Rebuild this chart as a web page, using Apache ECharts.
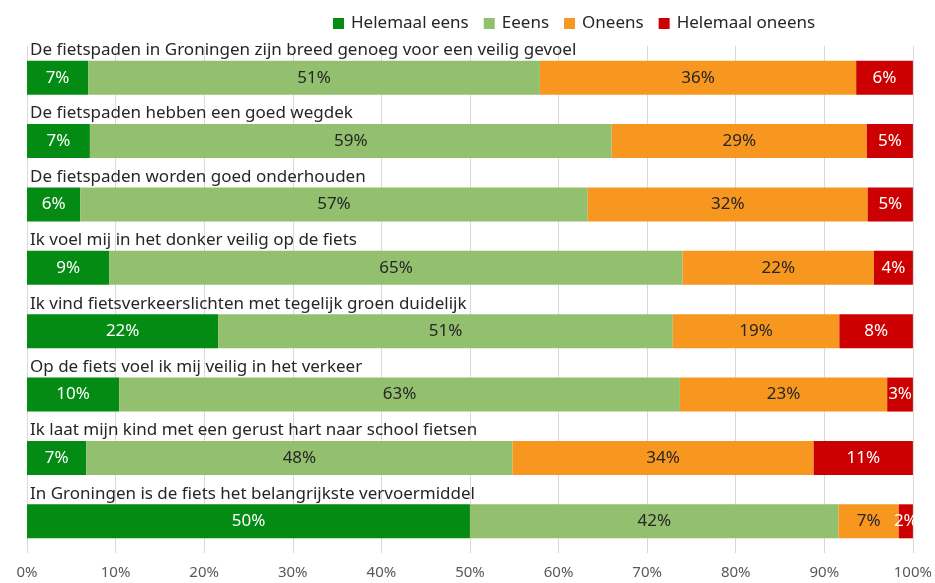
<!DOCTYPE html>
<html>
<head>
<meta charset="utf-8">
<script src="https://cdn.jsdelivr.net/npm/echarts@6/dist/echarts.min.js"></script>
<style>
	html, body { margin: 0; padding: 0; background: #fff; }
	#chart { width: 935px; height: 583px; }
</style>
</head>
<body>
<div id="chart"></div>
<script>
var categories = [
	'De fietspaden in Groningen zijn breed genoeg voor een veilig gevoel',
	'De fietspaden hebben een goed wegdek',
	'De fietspaden worden goed onderhouden',
	'Ik voel mij in het donker veilig op de fiets',
	'Ik vind fietsverkeerslichten met tegelijk groen duidelijk',
	'Op de fiets voel ik mij veilig in het verkeer',
	'Ik laat mijn kind met een gerust hart naar school fietsen',
	'In Groningen is de fiets het belangrijkste vervoermiddel'
];
var helemaalEens = [6.9, 7.1, 6.0, 9.3, 21.6, 10.4, 6.7, 50.0];
var eens = [51.0, 58.9, 57.3, 64.7, 51.3, 63.3, 48.1, 41.6];
var oneens = [35.7, 28.8, 31.6, 21.6, 18.8, 23.4, 34.0, 6.8];
var helemaalOneens = [6.4, 5.2, 5.1, 4.4, 8.3, 2.9, 11.2, 1.6];
var xTicks = [0, 10, 20, 30, 40, 50, 60, 70, 80, 90, 100];

var font = 'Noto Sans';

function makeSeries(name, data, color, textColor) {
	return {
		name: name,
		type: 'bar',
		stack: 'total',
		barWidth: 34,
		data: data,
		itemStyle: { color: color },
		label: {
			show: true,
			position: 'inside',
			color: textColor,
			fontFamily: font,
			fontSize: 17,
			formatter: function(p) { return Math.round(p.value) + '%'; }
		}
	};
}

var chart = echarts.init(document.getElementById('chart'));

var option = {
	animation: false,
	textStyle: { fontFamily: font },
	legend: {
		top: 10,
		left: 328,
		itemWidth: 11,
		itemHeight: 11,
		itemGap: 15,
		icon: 'rect',
		textStyle: { fontFamily: font, fontSize: 17, color: '#262626', padding: [0, 0, 0, 2] },
		data: ['Helemaal eens', 'Eeens', 'Oneens', 'Helemaal oneens']
	},
	grid: { left: 27, right: 20, top: 46, bottom: 30 },
	xAxis: {
		type: 'value',
		min: xTicks[0],
		max: xTicks[xTicks.length - 1],
		interval: 10,
		axisLine: { show: false },
		axisTick: { show: false },
		splitLine: { lineStyle: { color: '#d9d9d9' } },
		axisLabel: {
			margin: 12,
			fontSize: 15,
			color: '#595959',
			fontFamily: font,
			formatter: '{value}%'
		}
	},
	yAxis: {
		type: 'category',
		inverse: true,
		data: categories,
		axisLine: { show: false },
		axisTick: { show: false },
		axisLabel: {
			inside: true,
			margin: 3,
			verticalAlign: 'bottom',
			padding: [0, 0, 19, 0],
			fontSize: 17,
			color: '#262626',
			fontFamily: font
		}
	},
	series: [
		makeSeries('Helemaal eens', helemaalEens, '#038b13', '#ffffff'),
		makeSeries('Eeens', eens, '#93c06f', '#262626'),
		makeSeries('Oneens', oneens, '#f7971f', '#262626'),
		makeSeries('Helemaal oneens', helemaalOneens, '#cc0000', '#ffffff')
	]
};

chart.setOption(option);
</script>
</body>
</html>
